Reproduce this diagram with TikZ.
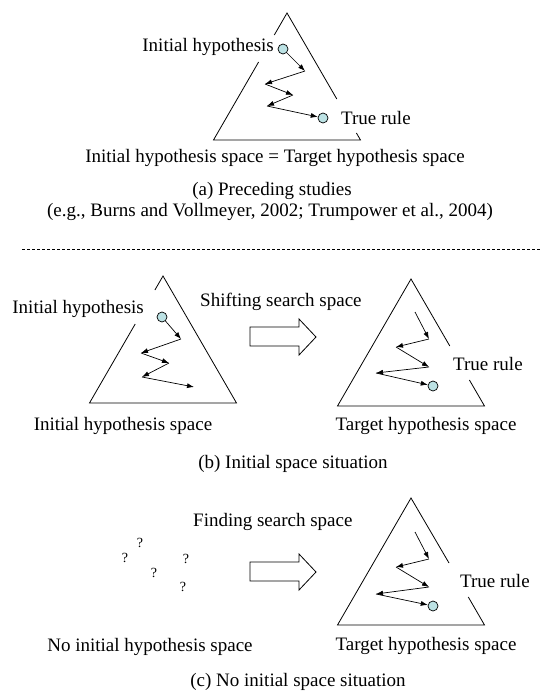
\documentclass[tikz,border=0pt]{standalone}
\usepackage{fontspec}
\setmainfont{Liberation Serif}
\usetikzlibrary{arrows.meta}

\definecolor{ruleblue}{RGB}{188,226,228}

\tikzset{
  lbl/.style={inner sep=0pt, font=\fontsize{19}{22}\selectfont},
  qmark/.style={inner sep=0pt, font=\fontsize{14}{16}\selectfont},
  dot/.style={circle, draw, fill=ruleblue, minimum size=10pt, inner sep=0pt, line width=0.7pt},
  walk/.style={line width=0.7pt, -{Latex[length=7pt,width=5pt]}},
  side/.style={line width=0.8pt}
}

\begin{document}
\begin{tikzpicture}[x=1pt, y=-1pt]
	\useasboundingbox (0,0) rectangle (545,699);

	% (a) un solo espacio
	\begin{scope}[shift={(287,13)}]
		\draw[side] (-12.7,22) -- (0,0) -- (49.8,86);
		\draw[side] (-28.4,49) -- (-73.5,127) -- (73.5,127) -- (69.4,120);
	\end{scope}
	\node[dot] (a0) at (283,49) {};
	\coordinate (a1) at (305,71);
	\coordinate (a2) at (265,84);
	\coordinate (a3) at (293,95);
	\coordinate (a4) at (267,106);
	\node[dot] (a5) at (323,118) {};
	\foreach \p/\q in {a0/a1,a1/a2,a2/a3,a3/a4,a4/a5}
		\draw[walk] (\p) -- (\q);
	\node[lbl, anchor=east] (aini) at (274,47) {Initial hypothesis};
	\node[lbl, anchor=west] (arule) at (341,118) {True rule};
	\node[lbl] (aspace) at (275,158) {Initial hypothesis space = Target hypothesis space};
	\node[lbl] (acap) at (272,191) {(a) Preceding studies};
	\node[lbl] (aref) at (270,212) {(e.g., Burns and Vollmeyer, 2002; Trumpower et al., 2004)};

	\draw[line width=0.6pt, dash pattern=on 3pt off 2pt] (22,249) -- (540,249);

	% (b) espacio inicial
	\begin{scope}[shift={(163,276)}]
		\draw[side] (-8.1,14) -- (0,0) -- (73.5,127) -- (-73.5,127) -- (-27.8,48);
	\end{scope}
	\node[dot] (b0) at (162,317) {};
	\coordinate (b1) at (181,339);
	\coordinate (b2) at (141,353);
	\coordinate (b3) at (169,363);
	\coordinate (b4) at (142,377);
	\coordinate (b5) at (194,387);
	\foreach \p/\q in {b0/b1,b1/b2,b2/b3,b3/b4,b4/b5}
		\draw[walk] (\p) -- (\q);
	\node[lbl, anchor=east] (bini) at (144,309) {Initial hypothesis};
	\node[lbl] (bispace) at (123,426) {Initial hypothesis space};

	\draw[side] (250,327) -- (299,327) -- (299,319) -- (316,337) -- (299,355) -- (299,346) -- (250,346) -- cycle;
	\node[lbl, anchor=west] (bshift) at (200,302) {Shifting search space};

	\begin{scope}[shift={(411,279)}]
		\draw[side] (38.8,67) -- (0,0) -- (-73.5,127) -- (73.5,127) -- (58.4,101);
	\end{scope}
	\coordinate (t0) at (415,312);
	\coordinate (t1) at (429,339);
	\coordinate (t2) at (396,347);
	\coordinate (t3) at (429,367);
	\coordinate (t4) at (376,373);
	\node[dot] (t5) at (433,386) {};
	\foreach \p/\q in {t0/t1,t1/t2,t2/t3,t3/t4,t4/t5}
		\draw[walk] (\p) -- (\q);
	\node[lbl, anchor=west] (brule) at (453,364) {True rule};
	\node[lbl] (btspace) at (426,426) {Target hypothesis space};
	\node[lbl] (bcap) at (293,464) {(b) Initial space situation};

	% (c) sin espacio inicial
	\node[qmark] (q1) at (140,543) {?};
	\node[qmark] (q2) at (125,558) {?};
	\node[qmark] (q3) at (154,573) {?};
	\node[qmark] (q4) at (186,559) {?};
	\node[qmark] (q5) at (183,587) {?};
	\node[lbl] (cnone) at (150,647) {No initial hypothesis space};

	\begin{scope}[shift={(0,235)}]
		\draw[side] (250,327) -- (299,327) -- (299,319) -- (316,337) -- (299,355) -- (299,346) -- (250,346) -- cycle;
	\end{scope}
	\node[lbl, anchor=west] (cfind) at (193,522) {Finding search space};

	\begin{scope}[shift={(411,498)}]
		\draw[side] (38.0,65) -- (0,0) -- (-73.5,127) -- (73.5,127) -- (57.3,99);
	\end{scope}
	\coordinate (u0) at (415,532);
	\coordinate (u1) at (429,559);
	\coordinate (u2) at (396,567);
	\coordinate (u3) at (429,587);
	\coordinate (u4) at (376,594);
	\node[dot] (u5) at (433,606) {};
	\foreach \p/\q in {u0/u1,u1/u2,u2/u3,u3/u4,u4/u5}
		\draw[walk] (\p) -- (\q);
	\node[lbl, anchor=west] (crule) at (460,581) {True rule};
	\node[lbl] (ctspace) at (426,646) {Target hypothesis space};
	\node[lbl] (ccap) at (298,682) {(c) No initial space situation};
\end{tikzpicture}
\end{document}
